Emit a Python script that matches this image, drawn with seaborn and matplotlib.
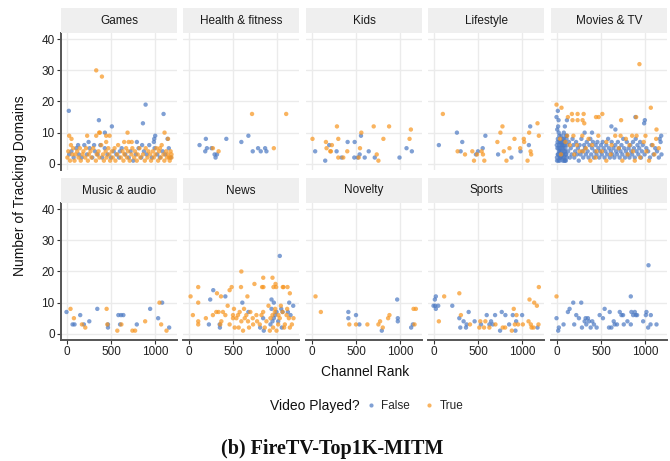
import matplotlib
matplotlib.use("Agg")
import matplotlib.pyplot as plt
from matplotlib.lines import Line2D
import seaborn as sns
import pandas as pd

# ---------------- data: (channel rank, number of tracking domains) ----------------
CATEGORIES = ["Games", "Health & fitness", "Kids", "Lifestyle", "Movies & TV",
              "Music & audio", "News", "Novelty", "Sports", "Utilities"]

GAMES_FALSE = [(26,17),(364,14),(431,10),(510,12),(889,19),(859,13),(1091,16),(1136,8),(997,9),
               (986,8),(982,7),(791,7),(248,7),
               (30,3),(55,4),(80,2),(110,5),(140,3),(170,2),(200,6),(230,3),(260,5),(290,2),(320,4),
               (350,3),(380,6),(400,2),(430,5),(460,3),(500,2),(530,4),(560,3),(590,2),(620,5),(660,3),
               (700,2),(720,4),(750,1),(780,3),(810,5),(840,2),(870,4),(900,3),(930,6),(960,2),(990,5),
               (1020,3),(1050,2),(1080,4),(1110,3),(1150,5),(1170,2),(310,6),(600,4),(850,6),(130,6)]
GAMES_TRUE = [(334,30),(398,28),(686,10),(375,10),(446,9),(334,9),(1102,10),(30,9),(56,8),(484,9),
              (648,7),(699,7),(733,7),(1141,8),(232,9),(446,7),(367,10),
              (10,2),(20,4),(40,1),(50,6),(65,3),(75,5),(90,1),(100,3),(120,4),(135,2),(150,5),(160,1),
              (180,3),(190,4),(210,2),(220,5),(240,1),(250,3),(270,4),(280,2),(300,5),(330,1),(340,3),
              (360,4),(370,2),(390,6),(410,3),(420,1),(440,4),(450,2),(470,5),(480,3),(490,1),(510,4),
              (520,2),(540,5),(550,1),(570,3),(580,6),(610,2),(630,4),(640,1),(650,3),(670,5),(680,2),
              (690,4),(710,1),(730,3),(740,5),(760,2),(770,4),(790,1),(800,3),(820,5),(830,2),(860,3),
              (880,1),(890,5),(910,2),(920,4),(940,3),(950,1),(970,4),(980,2),(1000,3),(1010,5),(1030,1),
              (1040,4),(1060,2),(1070,6),(1090,3),(1100,1),(1120,4),(1130,2),(1140,3),(1160,1),(1170,4),
              (1180,2),(1180,3),(1155,2),(1050,5)]

HEALTH_FALSE = [(124,6),(188,4),(195,8),(207,5),(259,5),(293,3),(304,2),(320,3),(425,8),(594,7),
                (673,9),(722,4),(782,5),(812,4),(861,5),(876,4)]
HEALTH_TRUE = [(338,4),(714,16),(959,5),(1098,16),(274,5)]

KIDS_FALSE = [(41,4),(154,1),(199,6),(282,4),(338,2),(406,7),(485,7),(481,2),(519,2),(541,3),
              (556,9),(598,2),(643,4),(711,2),(989,2),(1068,5),(1128,4)]
KIDS_TRUE = [(11,8),(162,7),(169,5),(229,6),(218,4),(286,12),(301,8),(211,4),(301,2),(357,2),
             (402,4),(530,2),(545,5),(560,10),(699,12),(733,3),(752,1),(808,8),(872,12),(1102,8),(1117,11)]

LIFESTYLE_FALSE = [(60,6),(263,10),(323,7),(305,4),(477,3),(500,4),(553,5),(583,9),(726,3),(876,2),
                   (978,4),(1072,6),(1087,12)]
LIFESTYLE_TRUE = [(105,16),(271,4),(354,3),(436,4),(455,1),(489,3),(541,4),(556,3),(571,1),(718,7),
                  (752,10),(775,12),(790,4),(820,1),(854,5),(910,8),(974,5),(1015,8),(1019,7),(1075,10),
                  (1091,4),(1098,3),(1057,1),(1169,13),(1184,9)]

MOVIES_FALSE = [(0,15),(23,14),(15,17),(117,14),(94,12),(887,15),(993,14),(985,13),(1177,9),(617,12),
                (662,11),(399,10),(316,10),
                (5,2),(10,5),(15,8),(20,3),(25,10),(30,6),(35,1),(40,4),(45,7),(50,2),(55,9),(60,5),
                (65,3),(70,1),(75,6),(80,8),(85,4),(90,2),(95,7),(100,5),(105,1),(110,3),(115,9),(120,6),
                (8,11),(18,12),(28,4),(38,2),(48,6),(58,3),(68,8),(78,5),(88,1),(98,4),(12,7),(22,1),
                (32,9),(42,5),(52,3),(62,7),(72,2),(82,10),(92,6),(102,3),(112,8),(3,6),(6,1),(14,3),
                (24,5),(34,7),(44,2),(54,4),(64,6),(74,3),(84,7),(94,1),(104,9),(114,2),
                (130,4),(140,7),(150,2),(160,5),(170,3),(180,8),(190,6),(200,2),(210,4),(220,7),(230,3),
                (240,5),(250,1),(260,6),(270,3),(280,8),(290,4),(300,2),(310,6),(320,5),(330,3),(340,7),
                (350,4),(360,2),(370,6),(380,8),(390,3),(400,5),(410,7),(420,2),(430,4),(440,6),(450,3),
                (460,7),(470,5),(480,2),(490,4),(500,6),(510,3),(520,7),(530,5),(540,2),(550,4),(560,6),
                (570,3),(580,8),(590,5),(600,2),(610,4),(620,7),(630,3),(640,5),(650,2),(660,6),(670,4),
                (680,3),(690,7),(700,5),(710,2),(720,4),(730,6),(740,3),(750,8),(760,5),(770,2),(780,4),
                (790,7),(800,3),(810,5),(820,2),(830,6),(840,4),(850,3),(860,7),(870,5),(880,2),(890,8),
                (900,4),(910,6),(920,3),(930,5),(940,7),(950,2),(960,4),(970,6),(990,3),(1010,5),(1030,4),
                (1050,2),(1070,6),(1090,3),(1110,5),(1130,4),(1150,2),(1170,7),(1180,3),(1160,8)]
MOVIES_TRUE = [(932,32),(0,19),(56,18),(1060,18),(173,16),(237,16),(305,16),(444,15),(474,15),(515,16),
               (180,14),(237,14),(293,14),(312,13),(726,14),(895,15),(1124,11),(128,15),
               (40,8),(120,9),(150,6),(200,3),(260,4),(290,9),(330,5),(360,8),(400,6),(440,2),(470,9),
               (510,4),(560,7),(610,3),(660,9),(700,5),(740,1),(780,8),(820,6),(860,4),(900,9),(940,2),
               (980,7),(1010,4),(1040,1),(1080,6),(1120,8),(1150,5),(50,3),(100,7),(230,6),(380,1),
               (450,4),(620,6),(800,3),(880,1),(1000,9),(1100,3),(190,9),(300,4),(560,1),(720,9),(850,9)]

MUSIC_FALSE = [(0,7),(68,3),(90,3),(154,6),(195,3),(256,4),(346,8),(466,3),(466,2),(583,6),(602,3),
               (613,6),(639,6),(790,3),(940,8),(1030,5),(1075,10),(1154,2)]
MUSIC_TRUE = [(45,8),(83,5),(173,3),(211,2),(451,8),(459,3),(571,1),(617,3),(741,1),(771,1),(884,4),
              (1045,10),(1064,3),(1124,1)]

NEWS_FALSE = [(278,14),(244,11),(414,12),(229,3),(350,3),(353,2),(605,10),(673,7),(805,2),(846,1),
              (921,3),(933,8),(933,11),(959,10),(989,7),(1026,25),(1042,8),(1049,2),(1057,7),(944,4),
              (959,5),(974,6),(1132,10),(1177,9),(1117,7),(1147,6),(1008,4),(839,5)]
NEWS_TRUE = [(23,12),(49,6),(109,10),(109,15),(109,4),(109,3),(195,5),(320,13),(365,12),(462,14),
             (485,15),(594,20),(590,15),(662,12),(741,16),(827,15),(842,15),(944,18),(955,15),(978,16),
             (985,15),(1068,15),(1113,15),(1139,13),(357,3),(369,4),(387,7),(440,9),(338,7),(511,8),
             (500,5),(519,2),(564,2),(594,4),(624,8),(650,6),(695,7),(722,5),(763,6),(801,3),(839,7),
             (876,4),(899,9),(921,5),(951,2),(974,8),(989,1),(1011,6),(1026,5),(1038,9),(1075,2),
             (1102,6),(1109,8),(1128,5),(1180,5),(1083,3),(538,5),(556,6),(575,7),(632,5),(669,4),
             (680,2),(613,1),(500,6),(462,3),(414,6),(312,7),(274,6),(726,3),(771,4),(820,6),(857,2),
             (914,1),(944,6),(970,7),(1008,3),(1057,7),(1139,2),(1162,3),(840,18),(1060,15)]

NOVELTY_FALSE = [(414,7),(414,5),(500,6),(538,3),(790,1),(963,11),(970,5),(970,4),(1120,2),(1139,3)]
NOVELTY_TRUE = [(45,12),(105,7),(425,3),(500,3),(628,3),(752,3),(771,4),(801,2),(861,5),(876,6),
                (1158,3),(1147,8),(1173,8)]

SPORTS_FALSE = [(26,12),(15,11),(0,9),(19,9),(53,9),(26,8),(211,9),(290,5),(301,2),(338,4),(365,2),
                (372,3),(395,7),(462,4),(534,3),(598,6),(628,3),(647,4),(666,3),(692,6),(748,1),(767,7),
                (808,6),(850,3),(891,6),(921,1),(929,4),(996,6),(1169,2)]
SPORTS_TRUE = [(120,12),(290,13),(308,6),(60,4),(410,3),(526,4),(515,2),(583,4),(568,2),(628,2),
               (696,3),(778,2),(805,2),(880,1),(902,8),(933,6),(914,3),(951,3),(1004,3),(1068,4),
               (1079,11),(1094,3),(1102,2),(1124,2),(1132,10),(1162,9),(1180,3),(1184,15)]

UTILITIES_FALSE = [(0,5),(26,2),(19,1),(79,3),(128,7),(147,8),(188,10),(199,3),(222,6),(252,5),(278,10),
                   (286,2),(316,4),(327,5),(335,3),(353,5),(365,4),(384,2),(402,4),(421,3),(451,2),(485,6),
                   (522,5),(541,8),(598,7),(590,2),(617,2),(643,4),(654,3),(680,3),(711,7),(730,6),(748,6),
                   (756,3),(797,4),(835,12),(842,7),(861,6),(880,7),(891,6),(906,6),(974,4),(1004,6),
                   (1011,7),(1034,22),(1030,2),(1057,3),(1060,6),(1124,3),(835,3)]
UTILITIES_TRUE = [(0,12)]

PANEL_DATA = {
    "Games": (GAMES_FALSE, GAMES_TRUE),
    "Health & fitness": (HEALTH_FALSE, HEALTH_TRUE),
    "Kids": (KIDS_FALSE, KIDS_TRUE),
    "Lifestyle": (LIFESTYLE_FALSE, LIFESTYLE_TRUE),
    "Movies & TV": (MOVIES_FALSE, MOVIES_TRUE),
    "Music & audio": (MUSIC_FALSE, MUSIC_TRUE),
    "News": (NEWS_FALSE, NEWS_TRUE),
    "Novelty": (NOVELTY_FALSE, NOVELTY_TRUE),
    "Sports": (SPORTS_FALSE, SPORTS_TRUE),
    "Utilities": (UTILITIES_FALSE, UTILITIES_TRUE),
}

X_TICKS = [0, 500, 1000]
Y_TICKS = [0, 10, 20, 30, 40]
PLAYED_LABELS = ["False", "True"]

# ---------------- styling ----------------
sns.set_style("white")
plt.rcParams["font.family"] = ["Liberation Sans", "DejaVu Sans"]

BLUE = "#4a78c2"
ORANGE = "#f7941d"
PALETTE = {"False": BLUE, "True": ORANGE}
GRID = "#ebebeb"
AXC = "#333333"

W, H = 670, 461
fig = plt.figure(figsize=(W / 100, H / 100), dpi=100)

col_left = [61, 183, 306, 428, 551]
pw = 116
rows = [(33, 170, 8), (203, 340, 178)]  # plot top, plot bottom, strip top


def fx(px):
    return px / W


def fy(py):
    return 1 - py / H


for i, cat in enumerate(CATEGORIES):
    r, c = divmod(i, 5)
    top, bot, stop = rows[r]
    left = col_left[c]
    ax = fig.add_axes([fx(left), fy(bot), pw / W, (bot - top) / H])
    fals, trues = PANEL_DATA[cat]
    df = pd.DataFrame(
        [(x, y, "False") for x, y in fals] + [(x, y, "True") for x, y in trues],
        columns=["rank", "domains", "played"],
    )
    sns.scatterplot(data=df, x="rank", y="domains", hue="played", palette=PALETTE,
                    hue_order=PLAYED_LABELS, s=10, alpha=0.7, linewidth=0, ax=ax, legend=False)
    ax.set_xlim(-62, 1242)
    ax.set_ylim(-2, 42)
    ax.set_xticks(X_TICKS)
    ax.set_yticks(Y_TICKS)
    ax.grid(True, color=GRID, linewidth=1.0)
    ax.set_axisbelow(True)
    ax.set_xlabel("")
    ax.set_ylabel("")
    for s in ["top", "right", "left", "bottom"]:
        ax.spines[s].set_visible(False)
    if c == 0:
        ax.spines["left"].set_visible(True)
        ax.spines["left"].set_color("#555555")
        ax.spines["left"].set_linewidth(1.4)
        ax.tick_params(axis="y", length=3, width=0.8, color=AXC, labelsize=8.5,
                       labelcolor="#222222", pad=1.5, left=True)
    else:
        ax.tick_params(axis="y", left=False, labelleft=False)
    if r == 1:
        ax.spines["bottom"].set_visible(True)
        ax.spines["bottom"].set_color("#555555")
        ax.spines["bottom"].set_linewidth(1.4)
        ax.tick_params(axis="x", length=3, width=0.8, color=AXC, labelsize=8.5,
                       labelcolor="#222222", pad=1.5, bottom=True)
    else:
        ax.tick_params(axis="x", bottom=False, labelbottom=False)

    sax = fig.add_axes([fx(left), fy(top), pw / W, (top - stop) / H])
    sax.set_facecolor("#efefef")
    sax.set_xticks([])
    sax.set_yticks([])
    for s in sax.spines.values():
        s.set_visible(False)
    sax.text(0.5, 0.5, cat, ha="center", va="center", fontsize=8.5, color="#1a1a1a",
             transform=sax.transAxes)

fig.text(fx(20), fy(186), "Number of Tracking Domains", rotation=90, ha="center", va="center",
         fontsize=10, color="#111111")
fig.text(fx(365), fy(372), "Channel Rank", ha="center", va="center", fontsize=10, color="#111111")

fig.text(fx(270), fy(406), "Video Played?", ha="left", va="center", fontsize=10, color="#111111")
handles = [Line2D([], [], marker="o", linestyle="", markersize=3, markerfacecolor=PALETTE[k],
                  markeredgewidth=0, alpha=0.7, label=k) for k in PLAYED_LABELS]
fig.legend(handles=handles, loc="center left", bbox_to_anchor=(fx(366), fy(406)), ncol=2,
           frameon=False, fontsize=8.5, handlelength=0.8, handletextpad=0.5, columnspacing=1.2,
           borderaxespad=0, borderpad=0)

fig.text(fx(332), fy(449), "(b) FireTV-Top1K-MITM", ha="center", va="center", fontsize=14.5,
         fontweight="bold", family=["Liberation Serif", "DejaVu Serif"], color="#111111")

fig.savefig("out.png", dpi=100)
